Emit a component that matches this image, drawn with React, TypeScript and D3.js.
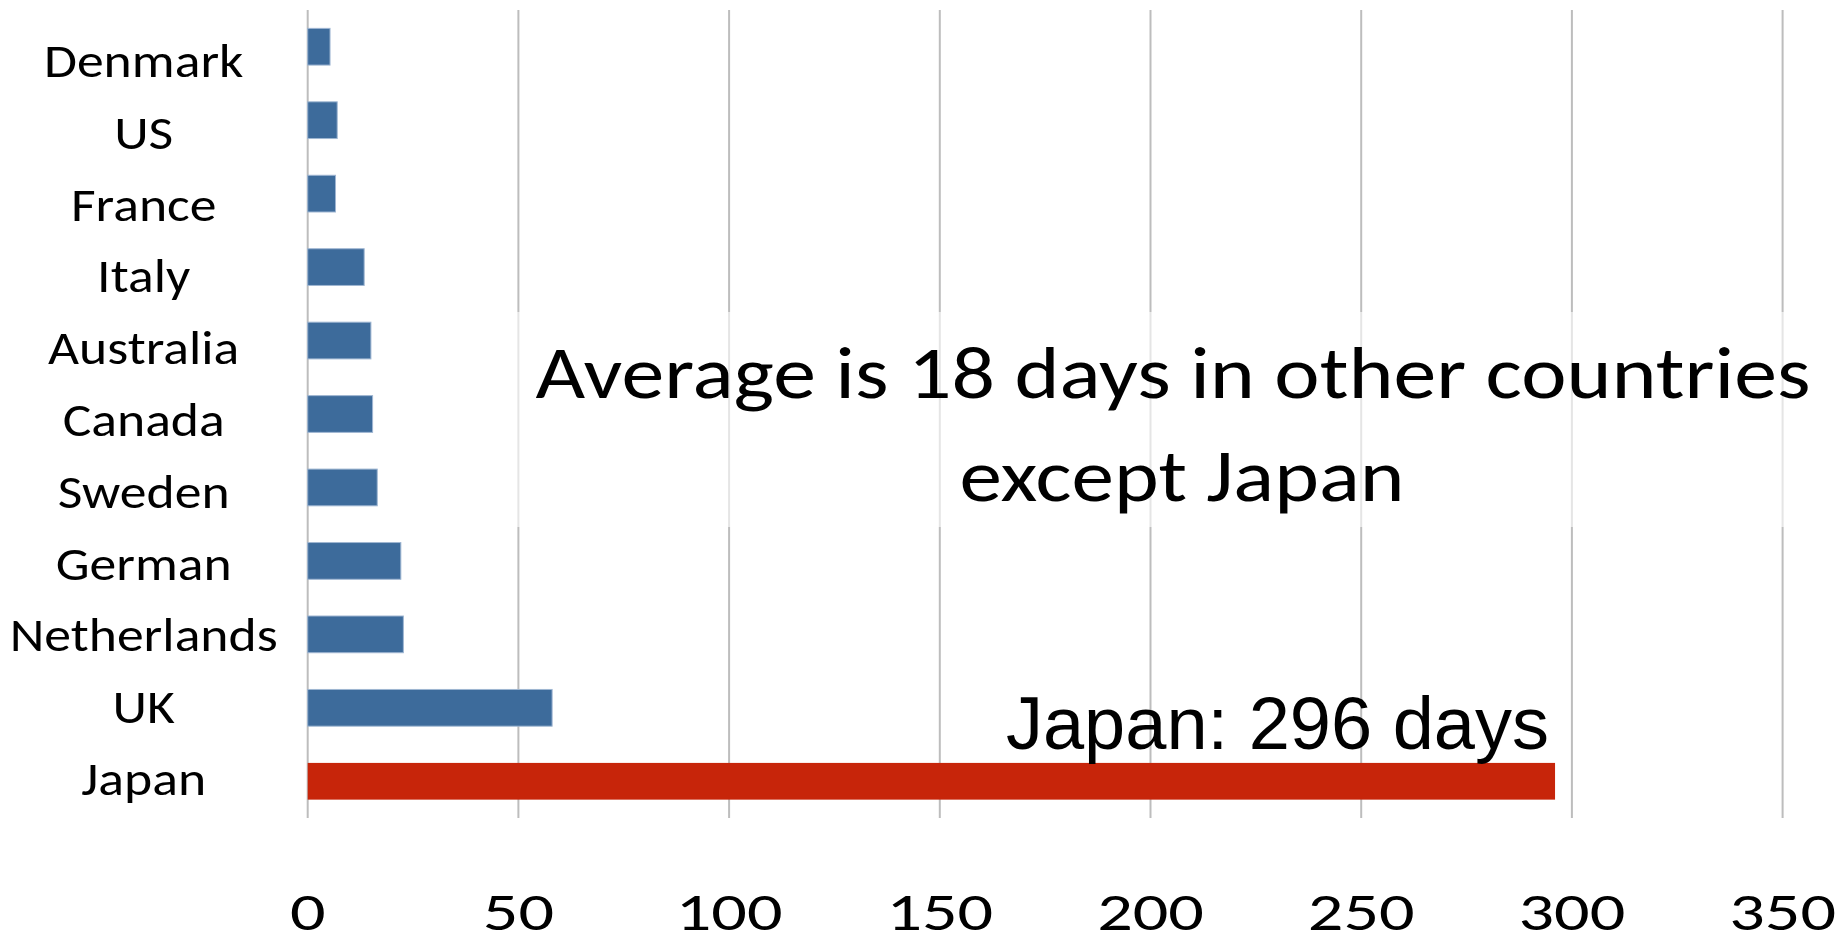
import { useEffect } from "react";
import * as d3 from "d3";

// days per year
const categories = ["Denmark", "US", "France", "Italy", "Australia", "Canada", "Sweden", "German", "Netherlands", "UK", "Japan"];
const values = [5.3, 7.0, 6.6, 13.4, 15.0, 15.4, 16.5, 22.1, 22.7, 58.0, 296];
const xTicks = [0, 50, 100, 150, 200, 250, 300, 350];
const highlight = "Japan";
const noteLines = ["Average is 18 days in other countries", "except Japan"];
const japanNote = "Japan: 296 days";

const W = 1847;
const H = 936;
const calibri = "Calibri, Carlito, Lato, sans-serif";

export default function App() {
  useEffect(() => {
    document.body.style.margin = "0";
  }, []);

  const x = d3.scaleLinear().domain([0, 350]).range([307.7, 1782.6]);
  const y = d3.scaleBand<string>().domain(categories).range([10, 818]).paddingInner(0.5).paddingOuter(0.25);
  // category labels sit on a slightly different rhythm than the bars
  const labelY = d3.scalePoint<string>().domain(categories).range([60, 778]);

  const japanBarTop = y(highlight) ?? 0;

  return (
    <svg width={W} height={H} style={{ display: "block", background: "#fff" }}>
      {/* gridlines */}
      {xTicks.map((t) => (
        <line key={t} x1={x(t)} x2={x(t)} y1={10} y2={818} stroke="#bdbdbd" strokeWidth={2} />
      ))}

      {/* bars */}
      {categories.map((c, i) => (
        <rect
          key={c}
          x={x(0)}
          y={y(c)}
          width={x(values[i]) - x(0)}
          height={y.bandwidth()}
          fill={c === highlight ? "#c7250a" : "#3d6b9b"}
          stroke={c === highlight ? "none" : "#9fb6d2"}
          strokeWidth={1}
        />
      ))}

      {/* category labels (stretched a bit to get closer to the wider original face) */}
      {categories.map((c) => (
        <text
          key={c}
          transform={`translate(143.7,${(labelY(c) ?? 0) + 17}) scale(1.13,1)`}
          textAnchor="middle"
          fontFamily={calibri}
          fontSize={47.5}
          fill="#000"
        >
          {c}
        </text>
      ))}

      {/* x tick labels */}
      {xTicks.map((t) => (
        <text
          key={t}
          transform={`translate(${x(t)},930) scale(1.3,1)`}
          textAnchor="middle"
          fontFamily={calibri}
          fontSize={54}
          fill="#000"
        >
          {t}
        </text>
      ))}

      {/* annotation box */}
      <rect x={510} y={312} width={1325} height={215} fill="#fff" fillOpacity={0.6} />
      <text x={1173} y={398} textAnchor="middle" fontFamily={calibri} fontSize={74} textLength={1275} lengthAdjust="spacingAndGlyphs" fill="#000">
        {noteLines[0]}
      </text>
      <text x={1182} y={501} textAnchor="middle" fontFamily={calibri} fontSize={74} textLength={445} lengthAdjust="spacingAndGlyphs" fill="#000">
        {noteLines[1]}
      </text>

      <text x={x(296) - 6} y={japanBarTop - 14} textAnchor="end" fontFamily="Arial, 'Liberation Sans', sans-serif" fontSize={74} fill="#000">
        {japanNote}
      </text>
    </svg>
  );
}
